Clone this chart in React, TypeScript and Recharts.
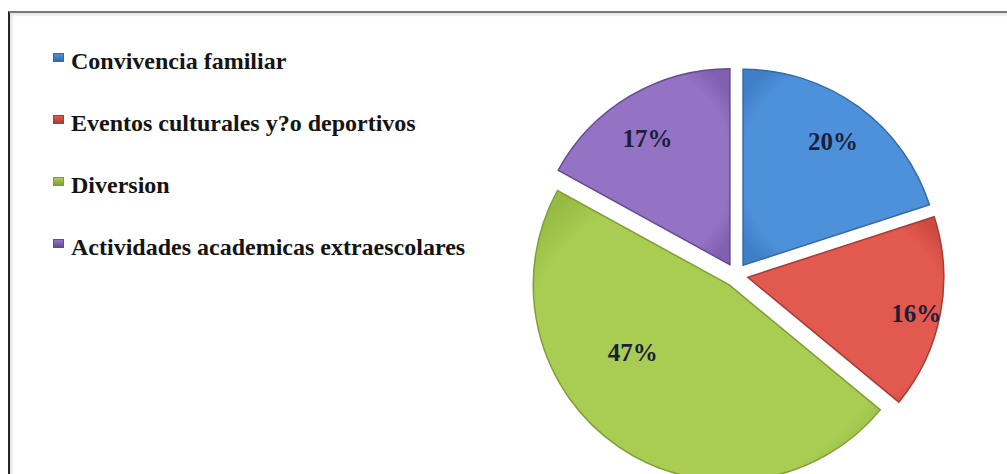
import React from "react";
import { PieChart, Pie, Cell, Sector } from "recharts";

const categories = [
  "Convivencia familiar",
  "Eventos culturales y?o deportivos",
  "Diversion",
  "Actividades academicas extraescolares",
];
const values = [20, 16, 47, 17];

// fills: [main, darker rim, outline]
const colors = [
  ["#4c91da", "#3f7fc7", "#3569a8"],
  ["#e2594f", "#cd4a41", "#a83b35"],
  ["#a9cc52", "#96ba43", "#7f9f36"],
  ["#9472c4", "#8160b1", "#654b92"],
];

// best-fit label placement used by the original (radius fraction, angle shift)
const labelHints = [
  { r: 0.78, da: 0 },
  { r: 0.88, da: -1.5 },
  { r: 0.6, da: -21 },
  { r: 0.77, da: 2.5 },
];

const data = categories.map((name, i) => ({ name, value: values[i] }));

const RAD = Math.PI / 180;
const EXPLODE = 12;
const R = 196;
const SERIF = "'Liberation Serif', 'Times New Roman', serif";

function ExplodedSector(props: any) {
  const { cx, cy, midAngle } = props;
  const dx = EXPLODE * Math.cos(-midAngle * RAD);
  const dy = EXPLODE * Math.sin(-midAngle * RAD);
  return <Sector {...props} cx={cx + dx} cy={cy + dy} />;
}

function renderLabel(props: any) {
  const { cx, cy, midAngle, index, percent, outerRadius } = props;
  const ex = cx + EXPLODE * Math.cos(-midAngle * RAD);
  const ey = cy + EXPLODE * Math.sin(-midAngle * RAD);
  const h = labelHints[index];
  const a = (midAngle + h.da) * RAD;
  const r = outerRadius * h.r;
  return (
    <text
      x={ex + r * Math.cos(-a)}
      y={ey + r * Math.sin(-a)}
      textAnchor="middle"
      dominantBaseline="central"
      fontFamily={SERIF}
      fontWeight="bold"
      fontSize={25}
      fill="#1d1f3a"
    >
      {`${Math.round(percent * 100)}%`}
    </text>
  );
}

function LegendList() {
  return (
    <div
      style={{
        position: "absolute",
        left: 53,
        top: 48,
        fontFamily: SERIF,
        zIndex: 2,
      }}
    >
      {categories.map((c, i) => (
        <div
          key={c}
          style={{
            height: 62,
            display: "flex",
            alignItems: "flex-start",
            fontSize: 24,
            fontWeight: "bold",
            color: "#141414",
            whiteSpace: "nowrap",
          }}
        >
          <span
            style={{
              display: "inline-block",
              width: 11,
              height: 9,
              marginTop: 5,
              marginRight: 7,
              background: `linear-gradient(${colors[i][0]}, ${colors[i][2]})`,
              border: `1px solid ${colors[i][2]}`,
              boxSizing: "border-box",
            }}
          />
          <span style={{ lineHeight: "27px" }}>{c}</span>
        </div>
      ))}
    </div>
  );
}

export default function App() {
  return (
    <div
      style={{
        position: "absolute",
        left: 0,
        top: 0,
        width: 1007,
        height: 474,
        background: "#fff",
        overflow: "hidden",
      }}
    >
      <div
        style={{
          position: "absolute",
          left: 8,
          top: 11,
          width: 1007,
          height: 474,
          borderLeft: "2px solid #262626",
          borderTop: "2px solid #7a7a7a",
          boxShadow: "inset 2px 2px 3px rgba(0,0,0,0.12)",
        }}
      />
      <PieChart width={1007} height={474} style={{ position: "absolute", left: 0, top: 0 }}>
        <defs>
          {colors.map((c, i) => (
            <radialGradient key={i} id={`g${i}`} cx="50%" cy="50%" r="62%">
              <stop offset="0%" stopColor={c[0]} />
              <stop offset="82%" stopColor={c[0]} />
              <stop offset="100%" stopColor={c[1]} />
            </radialGradient>
          ))}
        </defs>
        <Pie
          data={data}
          dataKey="value"
          nameKey="name"
          cx={731}
          cy={270}
          outerRadius={R}
          startAngle={90}
          endAngle={-270}
          isAnimationActive={false}
          labelLine={false}
          label={renderLabel}
          shape={ExplodedSector}
          activeShape={ExplodedSector}
          stroke="none"
        >
          {data.map((d, i) => (
            <Cell key={d.name} fill={`url(#g${i})`} stroke={colors[i][2]} strokeWidth={1.5} />
          ))}
        </Pie>
      </PieChart>
      <LegendList />
    </div>
  );
}
